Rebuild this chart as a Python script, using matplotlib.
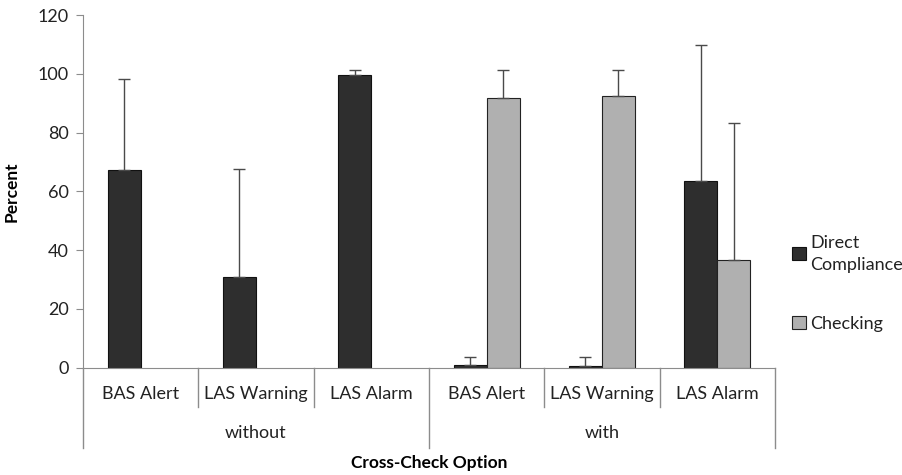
import matplotlib
matplotlib.use('Agg')
import matplotlib.pyplot as plt
import matplotlib.transforms as mtransforms
from matplotlib.patches import Patch
import numpy as np

plt.rcParams['font.family'] = ['Lato', 'DejaVu Sans']

# data
categories = ['BAS Alert', 'LAS Warning', 'LAS Alarm', 'BAS Alert', 'LAS Warning', 'LAS Alarm']
groups = ['without', 'with']
direct = [67.3, 31.0, 99.7, 0.8, 0.6, 63.4]
direct_err = [31.1, 36.7, 1.8, 2.8, 3.0, 46.5]
checking = [0, 0, 0, 91.8, 92.4, 36.8]
checking_err = [0, 0, 0, 9.4, 8.8, 46.4]

dark = '#2e2e2e'
light = '#b0b0b0'
axis_gray = '#8c8c8c'
text_col = '#222222'

fig = plt.figure(figsize=(9.02, 4.75), dpi=100)
ax = fig.add_axes([0.092, 0.226, 0.767, 0.742])

x = np.arange(len(categories))
w = 0.286

ax.bar(x - w / 2, direct, w, color=dark, edgecolor='#111111', linewidth=0.8, zorder=2)
has_chk = np.array(checking) > 0
ax.bar(x[has_chk] + w / 2, np.array(checking)[has_chk], w, color=light,
       edgecolor='#222222', linewidth=0.8, zorder=2)

ax.errorbar(x - w / 2, direct, yerr=[np.zeros(len(direct)), direct_err], fmt='none',
            ecolor='#4a4a4a', elinewidth=1.0, capsize=4, capthick=1.0, zorder=3)
ax.errorbar(x[has_chk] + w / 2, np.array(checking)[has_chk],
            yerr=[np.zeros(has_chk.sum()), np.array(checking_err)[has_chk]], fmt='none',
            ecolor='#4a4a4a', elinewidth=1.0, capsize=4, capthick=1.0, zorder=3)

ax.set_xlim(-0.5, len(categories) - 0.5)
ax.set_ylim(0, 120)
ax.set_yticks(np.arange(0, 121, 20))
ax.tick_params(axis='y', direction='out', length=5, color=axis_gray, labelsize=13,
               labelcolor=text_col, pad=5)
ax.set_xticks([])

for s in ['top', 'right']:
    ax.spines[s].set_visible(False)
ax.spines['left'].set_color(axis_gray)
ax.spines['bottom'].set_color(axis_gray)

# multi-level category axis
trans = mtransforms.blended_transform_factory(ax.transData, ax.transAxes)
n_per = len(categories) // len(groups)
for i in range(len(categories) + 1):
    xb = i - 0.5
    depth = -0.227 if i % n_per == 0 else -0.113
    ax.plot([xb, xb], [0, depth], transform=trans, color=axis_gray, lw=1.0, clip_on=False)
for i, c in enumerate(categories):
    ax.text(i, -0.076, c, transform=trans, ha='center', va='center', fontsize=13,
            color=text_col)
for g, name in enumerate(groups):
    ax.text(g * n_per + (n_per - 1) / 2, -0.184, name, transform=trans, ha='center',
            va='center', fontsize=13, color=text_col)

ax.set_ylabel('Percent', fontsize=12.5, fontweight='bold', color='black', labelpad=13)
fig.text(0.476, 0.025, 'Cross-Check Option', ha='center', va='center', fontsize=12.5,
         fontweight='bold', color='black')

handles = [Patch(facecolor=dark, edgecolor='#111111', lw=0.8),
           Patch(facecolor=light, edgecolor='#222222', lw=0.8)]
leg = fig.legend(handles, ['Direct\nCompliance', 'Checking'], loc='upper left',
                 bbox_to_anchor=(0.86, 0.54), frameon=False, fontsize=13,
                 handlelength=0.75, handleheight=0.75, handletextpad=0.25, labelspacing=2.4,
                 labelcolor=text_col)
for t in leg.get_texts():
    t.set_linespacing(1.45)

fig.savefig('out.png', dpi=100)
